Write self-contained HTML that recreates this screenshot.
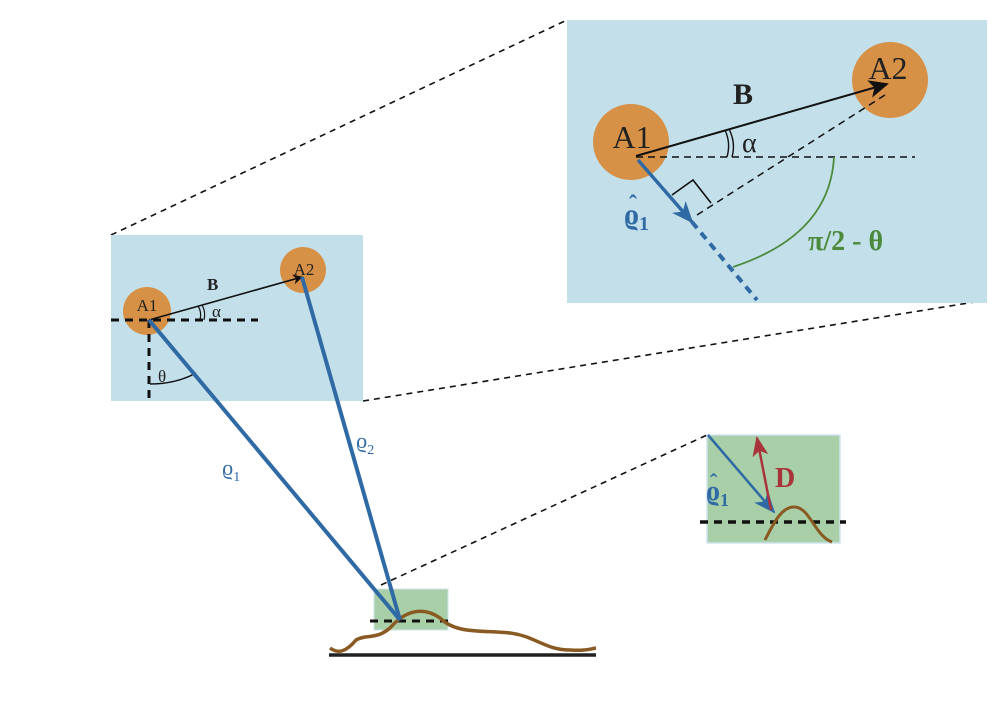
<!DOCTYPE html>
<html><head><meta charset="utf-8"><style>html,body{margin:0;padding:0;background:#fff}svg{display:block}text{font-family:"Liberation Serif",serif}</style></head>
<body>
<svg width="1005" height="704" viewBox="0 0 1005 704">
<defs>
<marker id="ak" markerWidth="10" markerHeight="10" refX="9" refY="5" orient="auto" markerUnits="userSpaceOnUse"><path d="M0,0 L10,5 L0,10 L3,5z" fill="#111"/></marker>
<marker id="akL" markerWidth="20" markerHeight="18" refX="18" refY="9" orient="auto" markerUnits="userSpaceOnUse"><path d="M0,0 L20,9 L0,18 L5,9z" fill="#111"/></marker>
<marker id="ab" markerWidth="22" markerHeight="18" refX="20" refY="9" orient="auto" markerUnits="userSpaceOnUse"><path d="M0,0 L22,9 L0,18 L6,9z" fill="#2f6aa5"/></marker>
<marker id="ar" markerWidth="20" markerHeight="16" refX="18" refY="8" orient="auto" markerUnits="userSpaceOnUse"><path d="M0,0 L20,8 L0,16 L5,8z" fill="#a8343a"/></marker>
</defs>
<g stroke="#111" stroke-width="1.6" stroke-dasharray="6,5" fill="none">
<line x1="111" y1="235" x2="567" y2="20"/>
<line x1="363" y1="401" x2="987" y2="300"/>
<line x1="381" y1="585" x2="707" y2="435"/>
</g>
<rect x="111" y="235" width="252" height="166" fill="#c3dfea"/>
<circle cx="147" cy="311" r="24" fill="#d79146"/>
<circle cx="303" cy="270" r="23" fill="#d79146"/>
<text x="147" y="311" font-size="17" text-anchor="middle" fill="#222">A1</text>
<text x="304" y="275" font-size="17" text-anchor="middle" fill="#222">A2</text>
<line x1="111" y1="320" x2="258" y2="320" stroke="#111" stroke-width="3" stroke-dasharray="8,6"/>
<line x1="149" y1="320" x2="149" y2="401" stroke="#111" stroke-width="3" stroke-dasharray="8,6"/>
<line x1="149" y1="320" x2="302" y2="277" stroke="#111" stroke-width="1.6" marker-end="url(#ak)"/>
<text x="207" y="290" font-size="17" font-weight="bold" fill="#222">B</text>
<path d="M198,306 Q202,312 200,320 M202,305 Q206,312 204,320" stroke="#111" fill="none" stroke-width="1.2"/>
<text x="212" y="317" font-size="17" fill="#222">α</text>
<path d="M150,384 Q176,384 196,373" stroke="#111" fill="none" stroke-width="1.4"/>
<text x="158" y="382" font-size="17" fill="#222">θ</text>
<text x="222" y="475" font-size="22" fill="#2f6aa5">ϱ<tspan font-size="14" dy="6">1</tspan></text>
<text x="356" y="448" font-size="22" fill="#2f6aa5">ϱ<tspan font-size="14" dy="6">2</tspan></text>
<rect x="374" y="589" width="74" height="41" fill="#a8cfa8" stroke="#cfe4ef" stroke-width="1"/>
<line x1="370" y1="621" x2="452" y2="621" stroke="#111" stroke-width="3" stroke-dasharray="8,6"/>
<path d="M330,648 C338,654 346,652 356,640 C366,634 376,640 390,628 C402,614 420,604 440,618 C456,634 480,630 510,633 C535,636 545,650 570,650 C585,651 590,649 596,648" stroke="#8a5a23" stroke-width="3.5" fill="none"/>
<line x1="329" y1="655" x2="596" y2="655" stroke="#222" stroke-width="3.5"/>
<line x1="149" y1="320" x2="400" y2="620" stroke="#2f6aa5" stroke-width="4"/>
<line x1="302" y1="277" x2="400" y2="620" stroke="#2f6aa5" stroke-width="4"/>
<rect x="567" y="20" width="420" height="283" fill="#c3dfea"/>
<circle cx="631" cy="142" r="38" fill="#d79146"/>
<circle cx="890" cy="80" r="38" fill="#d79146"/>
<text x="632" y="148" font-size="32" text-anchor="middle" fill="#222">A1</text>
<text x="888" y="79" font-size="32" text-anchor="middle" fill="#222">A2</text>
<line x1="636" y1="157" x2="915" y2="157" stroke="#111" stroke-width="1.5" stroke-dasharray="7,5"/>
<line x1="697" y1="215" x2="885" y2="95" stroke="#111" stroke-width="1.5" stroke-dasharray="7,5"/>
<line x1="636" y1="156" x2="887" y2="84" stroke="#111" stroke-width="2" marker-end="url(#akL)"/>
<polyline points="672,195 693,180 711,203" fill="none" stroke="#111" stroke-width="1.6"/>
<path d="M725,130 Q731,143 727,157 M729,129 Q736,143 732,157" stroke="#111" fill="none" stroke-width="1.4"/>
<text x="742" y="152" font-size="28" fill="#222">α</text>
<text x="733" y="104" font-size="30" font-weight="bold" fill="#222">B</text>
<line x1="638" y1="160" x2="692" y2="222" stroke="#2f6aa5" stroke-width="3.5" marker-end="url(#ab)"/>
<line x1="692" y1="222" x2="757" y2="300" stroke="#2f6aa5" stroke-width="4" stroke-dasharray="8,6"/>
<path d="M834,157 Q830,235 733,267" stroke="#4a8a3a" stroke-width="1.8" fill="none"/>
<text x="808" y="250" font-size="28" font-weight="bold" fill="#4a8a3a">π/2 - θ</text>
<text x="624" y="224" font-size="30" font-weight="bold" fill="#2f6aa5">ϱ<tspan font-size="20" dy="6">1</tspan></text>
<text x="629" y="212" font-size="24" font-weight="bold" fill="#2f6aa5">ˆ</text>
<rect x="707" y="435" width="133" height="108" fill="#a8cfa8" stroke="#cfe4ef" stroke-width="1.5"/>
<line x1="700" y1="522" x2="846" y2="522" stroke="#111" stroke-width="3.5" stroke-dasharray="8,6"/>
<path d="M765,540 C775,520 783,506 795,507 C810,508 815,536 832,542" stroke="#8a5a23" stroke-width="3" fill="none"/>
<line x1="708" y1="435" x2="774" y2="512" stroke="#2f6aa5" stroke-width="2.5" marker-end="url(#ab)"/>
<line x1="771" y1="510" x2="757" y2="438" stroke="#a8343a" stroke-width="2.5" marker-end="url(#ar)"/>
<text x="775" y="487" font-size="28" font-weight="bold" fill="#a8343a">D</text>
<text x="706" y="500" font-size="28" font-weight="bold" fill="#2f6aa5">ϱ<tspan font-size="18" dy="6">1</tspan></text>
<text x="710" y="489" font-size="22" font-weight="bold" fill="#2f6aa5">ˆ</text>
</svg>
</body></html>
